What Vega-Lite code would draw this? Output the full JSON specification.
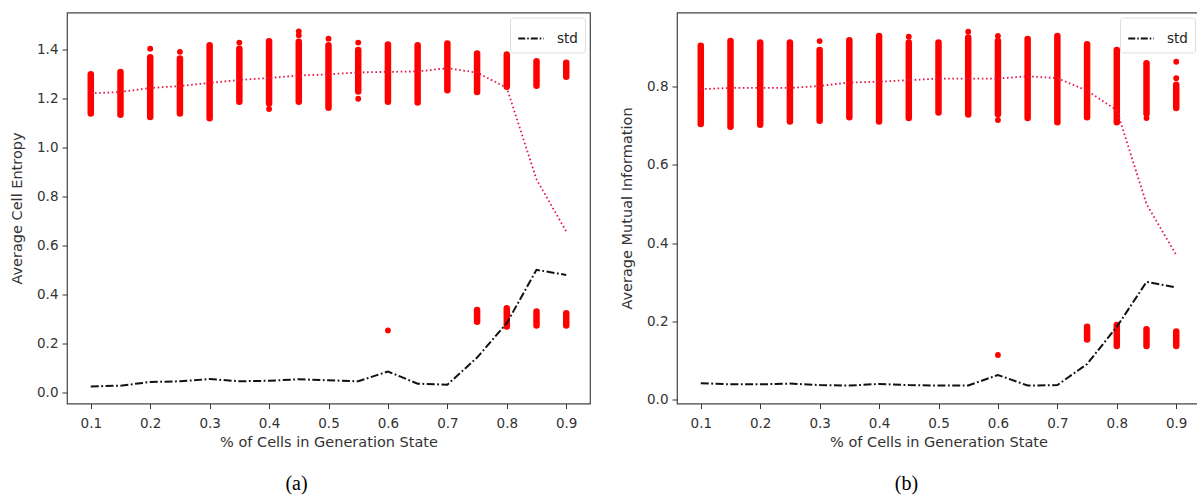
{
  "$schema": "https://vega.github.io/schema/vega-lite/v6.json",
  "padding": {"left": 8, "top": 11.5, "right": 0, "bottom": 0},
  "background": "white",
  "config": {
    "view": {"stroke": "#444", "strokeWidth": 1.2},
    "axis": {"domain": false, "grid": false, "tickColor": "#333", "tickSize": 5, "labelColor": "#333", "labelFont": "DejaVu Sans", "labelFontSize": 13.5, "titleFont": "DejaVu Sans", "titleFontSize": 14.5, "titleFontWeight": "normal", "titleColor": "#333", "labelPadding": 4},
    "axisX": {"labelPadding": 8, "titlePadding": 5},
    "axisY": {"titlePadding": 12},
    "legend": {"orient": "top-right", "offset": 5, "title": null, "symbolType": "stroke", "symbolStrokeWidth": 2.2, "symbolDash": [7, 2, 1.5, 2], "symbolSize": 650, "labelOffset": 12, "labelFont": "DejaVu Sans", "labelFontSize": 13.5, "labelColor": "#222", "padding": 7, "strokeColor": "#ddd", "fillColor": "white", "cornerRadius": 3}
  },
  "datasets": {
    "segs": [
      {"panel": "a", "x": 0.1, "lo": 1.14, "hi": 1.30},
      {"panel": "a", "x": 0.15, "lo": 1.135, "hi": 1.31},
      {"panel": "a", "x": 0.2, "lo": 1.125, "hi": 1.37},
      {"panel": "a", "x": 0.25, "lo": 1.14, "hi": 1.365},
      {"panel": "a", "x": 0.3, "lo": 1.12, "hi": 1.419},
      {"panel": "a", "x": 0.35, "lo": 1.188, "hi": 1.405},
      {"panel": "a", "x": 0.4, "lo": 1.181, "hi": 1.435},
      {"panel": "a", "x": 0.45, "lo": 1.188, "hi": 1.433},
      {"panel": "a", "x": 0.5, "lo": 1.163, "hi": 1.419},
      {"panel": "a", "x": 0.55, "lo": 1.23, "hi": 1.40},
      {"panel": "a", "x": 0.6, "lo": 1.188, "hi": 1.422},
      {"panel": "a", "x": 0.65, "lo": 1.185, "hi": 1.419},
      {"panel": "a", "x": 0.7, "lo": 1.235, "hi": 1.426},
      {"panel": "a", "x": 0.75, "lo": 1.228, "hi": 1.385},
      {"panel": "a", "x": 0.8, "lo": 1.249, "hi": 1.381},
      {"panel": "a", "x": 0.85, "lo": 1.253, "hi": 1.354},
      {"panel": "a", "x": 0.9, "lo": 1.29, "hi": 1.347},
      {"panel": "a", "x": 0.75, "lo": 0.288, "hi": 0.336},
      {"panel": "a", "x": 0.8, "lo": 0.268, "hi": 0.343},
      {"panel": "a", "x": 0.85, "lo": 0.272, "hi": 0.329},
      {"panel": "a", "x": 0.9, "lo": 0.272, "hi": 0.322},
      {"panel": "b", "x": 0.1, "lo": 0.705, "hi": 0.905},
      {"panel": "b", "x": 0.15, "lo": 0.698, "hi": 0.917},
      {"panel": "b", "x": 0.2, "lo": 0.703, "hi": 0.913},
      {"panel": "b", "x": 0.25, "lo": 0.711, "hi": 0.913},
      {"panel": "b", "x": 0.3, "lo": 0.713, "hi": 0.894},
      {"panel": "b", "x": 0.35, "lo": 0.722, "hi": 0.919},
      {"panel": "b", "x": 0.4, "lo": 0.711, "hi": 0.93},
      {"panel": "b", "x": 0.45, "lo": 0.72, "hi": 0.913},
      {"panel": "b", "x": 0.5, "lo": 0.734, "hi": 0.913},
      {"panel": "b", "x": 0.55, "lo": 0.729, "hi": 0.926},
      {"panel": "b", "x": 0.6, "lo": 0.73, "hi": 0.917},
      {"panel": "b", "x": 0.65, "lo": 0.72, "hi": 0.922},
      {"panel": "b", "x": 0.7, "lo": 0.709, "hi": 0.93},
      {"panel": "b", "x": 0.75, "lo": 0.722, "hi": 0.909},
      {"panel": "b", "x": 0.8, "lo": 0.709, "hi": 0.894},
      {"panel": "b", "x": 0.85, "lo": 0.732, "hi": 0.86},
      {"panel": "b", "x": 0.9, "lo": 0.746, "hi": 0.805},
      {"panel": "b", "x": 0.75, "lo": 0.154, "hi": 0.186},
      {"panel": "b", "x": 0.8, "lo": 0.137, "hi": 0.191},
      {"panel": "b", "x": 0.85, "lo": 0.137, "hi": 0.18},
      {"panel": "b", "x": 0.9, "lo": 0.137, "hi": 0.174}
    ],
    "dots": [
      {"panel": "a", "x": 0.2, "y": 1.405},
      {"panel": "a", "x": 0.25, "y": 1.392},
      {"panel": "a", "x": 0.35, "y": 1.43},
      {"panel": "a", "x": 0.4, "y": 1.158},
      {"panel": "a", "x": 0.45, "y": 1.476},
      {"panel": "a", "x": 0.45, "y": 1.46},
      {"panel": "a", "x": 0.5, "y": 1.446},
      {"panel": "a", "x": 0.55, "y": 1.43},
      {"panel": "a", "x": 0.55, "y": 1.2},
      {"panel": "a", "x": 0.6, "y": 0.252},
      {"panel": "b", "x": 0.3, "y": 0.917},
      {"panel": "b", "x": 0.45, "y": 0.928},
      {"panel": "b", "x": 0.55, "y": 0.941},
      {"panel": "b", "x": 0.6, "y": 0.93},
      {"panel": "b", "x": 0.6, "y": 0.715},
      {"panel": "b", "x": 0.85, "y": 0.72},
      {"panel": "b", "x": 0.9, "y": 0.864},
      {"panel": "b", "x": 0.9, "y": 0.822},
      {"panel": "b", "x": 0.6, "y": 0.114}
    ],
    "mean": [
      {"panel": "a", "x": 0.1, "y": 1.222},
      {"panel": "a", "x": 0.15, "y": 1.228},
      {"panel": "a", "x": 0.2, "y": 1.244},
      {"panel": "a", "x": 0.25, "y": 1.252},
      {"panel": "a", "x": 0.3, "y": 1.265},
      {"panel": "a", "x": 0.35, "y": 1.277},
      {"panel": "a", "x": 0.4, "y": 1.285},
      {"panel": "a", "x": 0.45, "y": 1.295},
      {"panel": "a", "x": 0.5, "y": 1.3},
      {"panel": "a", "x": 0.55, "y": 1.308},
      {"panel": "a", "x": 0.6, "y": 1.31},
      {"panel": "a", "x": 0.65, "y": 1.312},
      {"panel": "a", "x": 0.7, "y": 1.325},
      {"panel": "a", "x": 0.75, "y": 1.307},
      {"panel": "a", "x": 0.8, "y": 1.245},
      {"panel": "a", "x": 0.85, "y": 0.87},
      {"panel": "a", "x": 0.9, "y": 0.657},
      {"panel": "b", "x": 0.1, "y": 0.794},
      {"panel": "b", "x": 0.15, "y": 0.797},
      {"panel": "b", "x": 0.2, "y": 0.797},
      {"panel": "b", "x": 0.25, "y": 0.797},
      {"panel": "b", "x": 0.3, "y": 0.802},
      {"panel": "b", "x": 0.35, "y": 0.811},
      {"panel": "b", "x": 0.4, "y": 0.813},
      {"panel": "b", "x": 0.45, "y": 0.817},
      {"panel": "b", "x": 0.5, "y": 0.821},
      {"panel": "b", "x": 0.55, "y": 0.821},
      {"panel": "b", "x": 0.6, "y": 0.821},
      {"panel": "b", "x": 0.65, "y": 0.827},
      {"panel": "b", "x": 0.7, "y": 0.822},
      {"panel": "b", "x": 0.75, "y": 0.79},
      {"panel": "b", "x": 0.8, "y": 0.74},
      {"panel": "b", "x": 0.85, "y": 0.5},
      {"panel": "b", "x": 0.9, "y": 0.37}
    ],
    "std": [
      {"panel": "a", "series": "std", "x": 0.1, "y": 0.023},
      {"panel": "a", "series": "std", "x": 0.15, "y": 0.026},
      {"panel": "a", "series": "std", "x": 0.2, "y": 0.041},
      {"panel": "a", "series": "std", "x": 0.25, "y": 0.044},
      {"panel": "a", "series": "std", "x": 0.3, "y": 0.053},
      {"panel": "a", "series": "std", "x": 0.35, "y": 0.044},
      {"panel": "a", "series": "std", "x": 0.4, "y": 0.046},
      {"panel": "a", "series": "std", "x": 0.45, "y": 0.052},
      {"panel": "a", "series": "std", "x": 0.5, "y": 0.048},
      {"panel": "a", "series": "std", "x": 0.55, "y": 0.044},
      {"panel": "a", "series": "std", "x": 0.6, "y": 0.084},
      {"panel": "a", "series": "std", "x": 0.65, "y": 0.034},
      {"panel": "a", "series": "std", "x": 0.7, "y": 0.03},
      {"panel": "a", "series": "std", "x": 0.75, "y": 0.141},
      {"panel": "a", "series": "std", "x": 0.8, "y": 0.282},
      {"panel": "a", "series": "std", "x": 0.85, "y": 0.5},
      {"panel": "a", "series": "std", "x": 0.9, "y": 0.479},
      {"panel": "b", "series": "std", "x": 0.1, "y": 0.042},
      {"panel": "b", "series": "std", "x": 0.15, "y": 0.039},
      {"panel": "b", "series": "std", "x": 0.2, "y": 0.039},
      {"panel": "b", "series": "std", "x": 0.25, "y": 0.041},
      {"panel": "b", "series": "std", "x": 0.3, "y": 0.037},
      {"panel": "b", "series": "std", "x": 0.35, "y": 0.036},
      {"panel": "b", "series": "std", "x": 0.4, "y": 0.04},
      {"panel": "b", "series": "std", "x": 0.45, "y": 0.037},
      {"panel": "b", "series": "std", "x": 0.5, "y": 0.036},
      {"panel": "b", "series": "std", "x": 0.55, "y": 0.036},
      {"panel": "b", "series": "std", "x": 0.6, "y": 0.063},
      {"panel": "b", "series": "std", "x": 0.65, "y": 0.036},
      {"panel": "b", "series": "std", "x": 0.7, "y": 0.037},
      {"panel": "b", "series": "std", "x": 0.75, "y": 0.091},
      {"panel": "b", "series": "std", "x": 0.8, "y": 0.186},
      {"panel": "b", "series": "std", "x": 0.85, "y": 0.301},
      {"panel": "b", "series": "std", "x": 0.9, "y": 0.287}
    ]
  },
  "spacing": 27,
  "resolve": {"scale": {"color": "independent"}, "legend": {"color": "independent"}},
  "hconcat": [
    {
      "width": 523,
      "height": 391,
      "title": {"text": "(a)", "orient": "bottom", "anchor": "middle", "dx": -32, "offset": 25, "font": "Liberation Serif", "fontSize": 20, "fontWeight": "normal", "color": "black"},
      "encoding": {
        "x": {"field": "x", "type": "quantitative", "title": "% of Cells in Generation State", "scale": {"domain": [0.06, 0.94], "nice": false, "zero": false}, "axis": {"values": [0.1, 0.2, 0.3, 0.4, 0.5, 0.6, 0.7, 0.8, 0.9], "format": ".1f"}}
      },
      "layer": [
        {
          "data": {"name": "segs"},
          "transform": [{"filter": "datum.panel == 'a'"}],
          "mark": {"type": "rule", "color": "#ff0000", "strokeWidth": 6.5, "strokeCap": "round"},
          "encoding": {
            "y": {"field": "lo", "type": "quantitative", "title": "Average Cell Entropy", "scale": {"domain": [-0.047, 1.553], "nice": false, "zero": false}, "axis": {"values": [0, 0.2, 0.4, 0.6, 0.8, 1.0, 1.2, 1.4], "format": ".1f"}},
            "y2": {"field": "hi"}
          }
        },
        {
          "data": {"name": "dots"},
          "transform": [{"filter": "datum.panel == 'a'"}],
          "mark": {"type": "circle", "color": "#ff0000", "size": 34, "opacity": 1},
          "encoding": {"y": {"field": "y", "type": "quantitative"}}
        },
        {
          "data": {"name": "mean"},
          "transform": [{"filter": "datum.panel == 'a'"}],
          "mark": {"type": "line", "color": "#e8174a", "strokeWidth": 1.8, "strokeDash": [1.6, 2.6]},
          "encoding": {"y": {"field": "y", "type": "quantitative"}}
        },
        {
          "data": {"name": "std"},
          "transform": [{"filter": "datum.panel == 'a'"}],
          "mark": {"type": "line", "strokeWidth": 2, "strokeDash": [8, 2.5, 1.8, 2.5]},
          "encoding": {
            "y": {"field": "y", "type": "quantitative"},
            "color": {"field": "series", "type": "nominal", "scale": {"domain": ["std"], "range": ["#111111"]}, "legend": {"orient": "top-right"}}
          }
        }
      ]
    },
    {
      "width": 523,
      "height": 391,
      "title": {"text": "(b)", "orient": "bottom", "anchor": "middle", "dx": -32, "offset": 25, "font": "Liberation Serif", "fontSize": 20, "fontWeight": "normal", "color": "black"},
      "encoding": {
        "x": {"field": "x", "type": "quantitative", "title": "% of Cells in Generation State", "scale": {"domain": [0.06, 0.94], "nice": false, "zero": false}, "axis": {"values": [0.1, 0.2, 0.3, 0.4, 0.5, 0.6, 0.7, 0.8, 0.9], "format": ".1f"}}
      },
      "layer": [
        {
          "data": {"name": "segs"},
          "transform": [{"filter": "datum.panel == 'b'"}],
          "mark": {"type": "rule", "color": "#ff0000", "strokeWidth": 6.5, "strokeCap": "round"},
          "encoding": {
            "y": {"field": "lo", "type": "quantitative", "title": "Average Mutual Information", "scale": {"domain": [-0.01, 0.99], "nice": false, "zero": false}, "axis": {"values": [0, 0.2, 0.4, 0.6, 0.8], "format": ".1f"}},
            "y2": {"field": "hi"}
          }
        },
        {
          "data": {"name": "dots"},
          "transform": [{"filter": "datum.panel == 'b'"}],
          "mark": {"type": "circle", "color": "#ff0000", "size": 34, "opacity": 1},
          "encoding": {"y": {"field": "y", "type": "quantitative"}}
        },
        {
          "data": {"name": "mean"},
          "transform": [{"filter": "datum.panel == 'b'"}],
          "mark": {"type": "line", "color": "#e8174a", "strokeWidth": 1.8, "strokeDash": [1.6, 2.6]},
          "encoding": {"y": {"field": "y", "type": "quantitative"}}
        },
        {
          "data": {"name": "std"},
          "transform": [{"filter": "datum.panel == 'b'"}],
          "mark": {"type": "line", "strokeWidth": 2, "strokeDash": [8, 2.5, 1.8, 2.5]},
          "encoding": {
            "y": {"field": "y", "type": "quantitative"},
            "color": {"field": "series", "type": "nominal", "scale": {"domain": ["std"], "range": ["#111111"]}, "legend": {"orient": "top-right"}}
          }
        }
      ]
    }
  ]
}
